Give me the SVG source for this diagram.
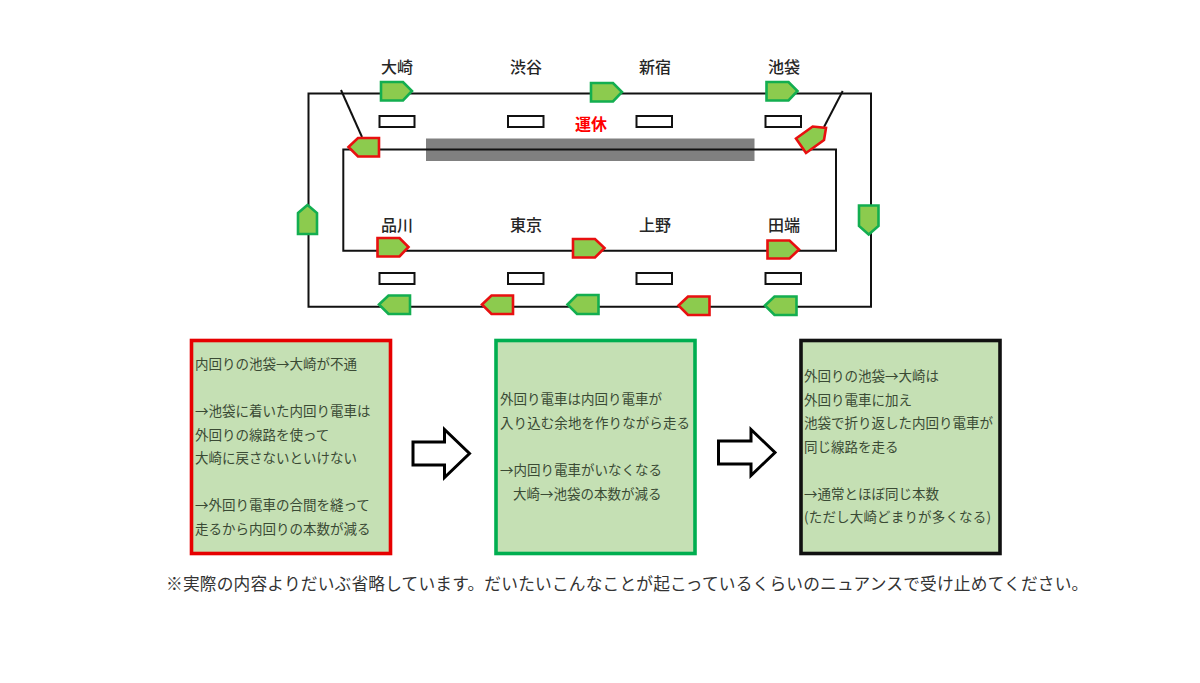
<svg xmlns="http://www.w3.org/2000/svg" width="1200" height="683" viewBox="0 0 1200 683">
<style>
text{font-family:"Noto Sans CJK JP","Noto Sans",sans-serif}
.st{font-size:16px;font-weight:500;fill:#262626;text-anchor:middle}
.b{font-size:13.5px;fill:#3a4a34}
.f{font-size:16.7px;letter-spacing:.2px;fill:#333}
.line{fill:none;stroke:#111;stroke-width:2}
.tg{fill:#8ccb4e;stroke:#13ae50;stroke-width:2.6;stroke-linejoin:miter}
.tr{fill:#8ccb4e;stroke:#e81010;stroke-width:2.6;stroke-linejoin:miter}
.plat{fill:#fff;stroke:#111;stroke-width:2}
.box{fill:#c5e0b4;stroke-width:3.6}
.arr{fill:#fff;stroke:#000;stroke-width:3}
</style>
<rect width="1200" height="683" fill="#fff"/>
<rect id="closure" x="426" y="138.5" width="328.5" height="22.5" fill="#808080"/>
<g id="connectors">
<path class="line" d="M308.5 306.7V93.4H871V306.7Z"/>
<path class="line" d="M343.3 149.4H836V250.7H343.3Z"/>
<path class="line" d="M341 90L362 137"/>
<path class="line" d="M842.7 91L824 127"/>
</g>
<g id="platforms">
<rect class="plat" x="379.5" y="116" width="35" height="11"/>
<rect class="plat" x="508" y="116" width="35.5" height="11"/>
<rect class="plat" x="636.5" y="116" width="35.5" height="11"/>
<rect class="plat" x="765.5" y="116" width="35.5" height="11"/>
<rect class="plat" x="379.5" y="273" width="35" height="11"/>
<rect class="plat" x="508" y="273" width="35.5" height="11"/>
<rect class="plat" x="636.5" y="273" width="35.5" height="11"/>
<rect class="plat" x="765.5" y="273" width="35.5" height="11"/>
</g>
<g id="stations">
<text class="st" x="397" y="73">大崎</text>
<text class="st" x="526" y="73">渋谷</text>
<text class="st" x="655" y="73">新宿</text>
<text class="st" x="784" y="73">池袋</text>
<text class="st" x="397" y="231">品川</text>
<text class="st" x="526" y="231">東京</text>
<text class="st" x="655" y="231">上野</text>
<text class="st" x="784" y="231">田端</text>
<text x="591" y="130" style="font-size:16px;font-weight:700;fill:#f00;text-anchor:middle">運休</text>
</g>
<g id="trains">
<polygon id="t1" class="tg" points="381,82 403,82 412,91 403,100.5 381,100.5"/>
<polygon id="t2" class="tg" points="591,83 613,83 622,92 613,101.5 591,101.5"/>
<polygon id="t3" class="tg" points="766.5,82 788.5,82 797.5,91 788.5,100.5 766.5,100.5"/>
<polygon id="t4" class="tr" points="348.5,147 358,138 379,138 379,156.5 358,156.5"/>
<polygon id="t5" class="tr" points="796,138.5 812.7,126.5 826,128 824,140 806,153"/>
<polygon id="t6" class="tg" points="298,213 307.5,205 317,213 317,234 298,234"/>
<polygon id="t7" class="tg" points="859,205.5 878.5,205.5 878.5,226 868.7,234.5 859,226"/>
<polygon id="t8" class="tr" points="377.5,238 399.5,238 408.5,247 399.5,256.5 377.5,256.5"/>
<polygon id="t9" class="tr" points="573,239 595,239 604.5,248 595,257.5 573,257.5"/>
<polygon id="t10" class="tr" points="767.5,240.5 789.5,240.5 799,249.5 789.5,258.5 767.5,258.5"/>
<polygon id="t11" class="tg" points="379,304.5 388.5,295.5 410,295.5 410,314 388.5,314"/>
<polygon id="t12" class="tr" points="482,304.5 491.5,295.5 513,295.5 513,314 491.5,314"/>
<polygon id="t13" class="tg" points="567.5,304.5 577,295 598.5,295 598.5,314 577,314"/>
<polygon id="t14" class="tr" points="678.5,305.5 688,296.5 709.5,296.5 709.5,315 688,315"/>
<polygon id="t15" class="tg" points="765,305.5 774.5,296.5 796.5,296.5 796.5,315 774.5,315"/>
</g>
<g id="box-red">
<rect class="box" stroke="#e60000" x="191.5" y="340.5" width="199" height="213"/>
<text class="b" x="195" y="369">内回りの池袋→大崎が不通</text>
<text class="b" x="195" y="416">→池袋に着いた内回り電車は</text>
<text class="b" x="195" y="439.5">外回りの線路を使って</text>
<text class="b" x="195" y="462.5">大崎に戻さないといけない</text>
<text class="b" x="195" y="510">→外回り電車の合間を縫って</text>
<text class="b" x="195" y="534">走るから内回りの本数が減る</text>
</g>
<g id="arrow-1"><polygon class="arr" points="413,442 444.5,442 444.5,429.5 469.5,453.5 444.5,477.5 444.5,465 413,465"/></g>
<g id="box-green">
<rect class="box" stroke="#00ae50" x="496" y="340.5" width="199" height="213"/>
<text class="b" x="500" y="404">外回り電車は内回り電車が</text>
<text class="b" x="500" y="428" textLength="190">入り込む余地を作りながら走る</text>
<text class="b" x="500" y="475">→内回り電車がいなくなる</text>
<text class="b" x="513" y="499">大崎→池袋の本数が減る</text>
</g>
<g id="arrow-2"><polygon class="arr" points="718.5,441 751,441 751,429.5 775,452.5 751,475.5 751,464 718.5,464"/></g>
<g id="box-black">
<rect class="box" stroke="#111" x="801" y="340.5" width="199" height="213"/>
<text class="b" x="804" y="381">外回りの池袋→大崎は</text>
<text class="b" x="804" y="404.5">外回り電車に加え</text>
<text class="b" x="804" y="428">池袋で折り返した内回り電車が</text>
<text class="b" x="804" y="451.5">同じ線路を走る</text>
<text class="b" x="804" y="498.5">→通常とほぼ同じ本数</text>
<text class="b" x="804" y="522" textLength="187">(ただし大崎どまりが多くなる)</text>
</g>
<text id="note" class="f" x="166" y="590">※実際の内容よりだいぶ省略しています。だいたいこんなことが起こっているくらいのニュアンスで受け止めてください。</text>
</svg>
